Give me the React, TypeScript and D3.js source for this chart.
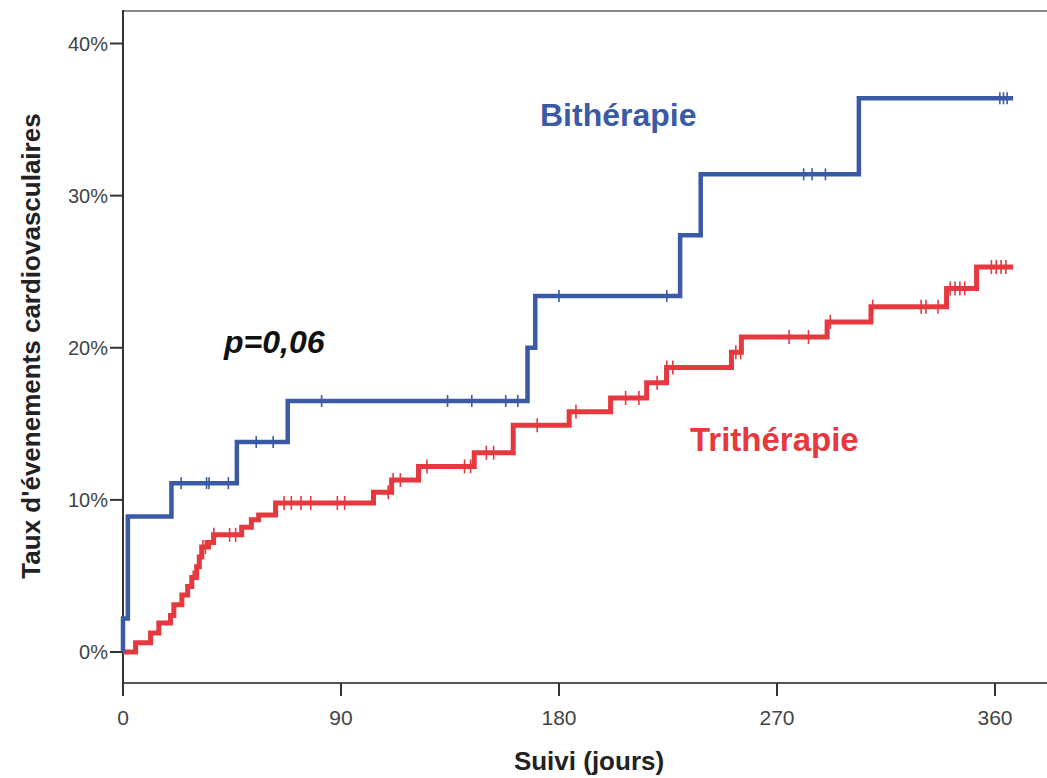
import React from "react";
import * as d3 from "d3";

// ---- Data (days, cumulative event rate in %) ----
const xTicks = [0, 90, 180, 270, 360];
const yTicks = [0, 10, 20, 30, 40];

const biTimes = [0, 2, 20, 47, 68, 167, 170.2, 230, 238.5, 303.8];
const biValues = [2.2, 8.9, 11.1, 13.8, 16.5, 20.0, 23.4, 27.4, 31.4, 36.4];
const biCensor = [24, 34.5, 35.5, 43.5, 55, 62, 82, 134, 144, 158, 163, 180, 224.5, 281, 284.5, 290, 362, 363.5, 365];
const biEnd = 367.5;

const triTimes = [5.2, 11.4, 14.8, 19.6, 21, 24.3, 26.7, 28.4, 30.4, 31.5, 32.5, 35.3, 37.4, 49, 53, 56, 63, 103.4, 110.9, 122, 145, 161.1, 184.2, 201.3, 216.2, 224.4, 251.2, 255.3, 290.7, 308.8, 340, 352.4];
const triValues = [0.6, 1.25, 1.9, 2.4, 3.1, 3.75, 4.3, 4.9, 5.6, 6.25, 6.9, 7.2, 7.7, 8.2, 8.7, 9.0, 9.8, 10.5, 11.3, 12.2, 13.1, 14.9, 15.8, 16.7, 17.7, 18.7, 19.7, 20.7, 21.7, 22.7, 23.9, 25.3];
const triCensor = [29, 33, 34, 37.5, 44, 46.5, 66.5, 69.5, 73.5, 77.5, 88.5, 91.5, 109.5, 111.5, 114.5, 125.5, 141, 143.5, 150, 153, 171, 187, 207.5, 213, 220.5, 224.5, 227, 253, 255, 275, 283, 292, 309.5, 329.5, 331.5, 336.5, 341.5, 343.5, 345.5, 347.5, 358.5, 360.5, 362.5, 364.5];
const triEnd = 367.5;

const W = 1047;
const H = 778;

const x = d3.scaleLinear().domain([0, 360]).range([123, 995]);
const y = d3.scaleLinear().domain([0, 40]).range([652, 43.5]);

type Pt = [number, number];

function buildPoints(times: number[], values: number[], end: number): Pt[] {
  const pts: Pt[] = [[0, 0]];
  times.forEach((t, i) => pts.push([t, values[i]]));
  pts.push([end, values[values.length - 1]]);
  return pts;
}

function valueAt(times: number[], values: number[], t: number): number {
  let v = 0;
  for (let i = 0; i < times.length; i++) {
    if (times[i] <= t) v = values[i];
  }
  return v;
}

const line = d3
  .line<Pt>()
  .x((d) => x(d[0]))
  .y((d) => y(d[1]))
  .curve(d3.curveStepAfter);

const BLUE = "#3A5AA6";
const RED = "#E5383F";

export default function App() {
  const biPts = buildPoints(biTimes, biValues, biEnd);
  const triPts = buildPoints(triTimes, triValues, triEnd);
  const axisColor = "#333";
  const tickFont = "'Liberation Sans', Arial, sans-serif";
  return (
    <svg
      width={W}
      height={H}
      style={{ position: "absolute", left: 0, top: 0, background: "#fff" }}
    >
      <rect x={0} y={0} width={W} height={H} fill="#fff" />
      {/* frame */}
      <line x1={123} x2={W} y1={11} y2={11} stroke="#8a8a8a" strokeWidth={2} />
      <line x1={123} x2={W} y1={683} y2={683} stroke="#555" strokeWidth={2} />
      <line x1={123} x2={123} y1={10} y2={684} stroke={axisColor} strokeWidth={2} />

      {/* y ticks */}
      {yTicks.map((t) => (
        <g key={"y" + t}>
          <line x1={110} x2={123} y1={y(t)} y2={y(t)} stroke={axisColor} strokeWidth={2} />
          <text
            x={108}
            y={y(t)}
            dy="0.35em"
            textAnchor="end"
            fontSize={20}
            fontFamily={tickFont}
            fill="#444"
          >
            {t}%
          </text>
        </g>
      ))}

      {/* x ticks */}
      {xTicks.map((t) => (
        <g key={"x" + t}>
          <line x1={x(t)} x2={x(t)} y1={683} y2={696} stroke={axisColor} strokeWidth={2} />
          <text
            x={x(t)}
            y={725}
            textAnchor="middle"
            fontSize={21}
            fontFamily="'Liberation Sans Narrow', 'Liberation Sans', Arial, sans-serif"
            fill="#444"
          >
            {t}
          </text>
        </g>
      ))}

      {/* axis titles */}
      <text
        x={589}
        y={770}
        textAnchor="middle"
        fontSize={26}
        fontWeight="bold"
        fontFamily={tickFont}
        fill="#222"
      >
        Suivi (jours)
      </text>
      <text
        transform="translate(40,346) rotate(-90)"
        textAnchor="middle"
        fontSize={26}
        fontWeight="bold"
        fontFamily={tickFont}
        fill="#222"
      >
        Taux d'évenements cardiovasculaires
      </text>

      {/* curves */}
      <path d={line(triPts) || ""} fill="none" stroke={RED} strokeWidth={5} />
      {triCensor.map((t, i) => {
        const v = valueAt(triTimes, triValues, t);
        return (
          <line
            key={"tc" + i}
            x1={x(t)}
            x2={x(t)}
            y1={y(v) - 7}
            y2={y(v) + 7}
            stroke={RED}
            strokeWidth={1.6}
          />
        );
      })}
      <path d={line(biPts) || ""} fill="none" stroke={BLUE} strokeWidth={4.5} />
      {biCensor.map((t, i) => {
        const v = valueAt(biTimes, biValues, t);
        return (
          <line
            key={"bc" + i}
            x1={x(t)}
            x2={x(t)}
            y1={y(v) - 6}
            y2={y(v) + 6}
            stroke={BLUE}
            strokeWidth={1.6}
          />
        );
      })}

      {/* annotations */}
      <text x={540} y={126} fontSize={32} fontWeight="bold" fontFamily={tickFont} fill={BLUE}>
        Bithérapie
      </text>
      <text x={690} y={451} fontSize={33} fontWeight="bold" fontFamily={tickFont} fill={RED}>
        Trithérapie
      </text>
      <text
        x={224}
        y={353}
        fontSize={32}
        fontWeight="bold"
        fontStyle="italic"
        fontFamily={tickFont}
        fill="#111"
      >
        p=0,06
      </text>
    </svg>
  );
}
